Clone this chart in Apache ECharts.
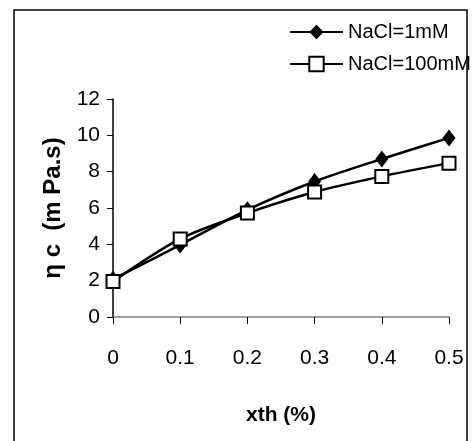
<!DOCTYPE html>
<html>
<head>
<meta charset="utf-8">
<script src="https://cdn.jsdelivr.net/npm/echarts@6/dist/echarts.min.js"></script>
<style>
html,body{margin:0;padding:0;background:#fff;}
#main{width:473px;height:441px;}
</style>
</head>
<body>
<div id="main"></div>
<script>
var xValues = [0, 0.1, 0.2, 0.3, 0.4, 0.5];
var nacl1 = [2.08, 3.97, 5.9, 7.46, 8.7, 9.86];
var nacl100 = [1.95, 4.3, 5.72, 6.88, 7.74, 8.47];
var seriesNames = ['NaCl=1mM', 'NaCl=100mM'];
var xTitle = 'xth (%)';
var yTitle = 'η c  (m Pa.s)';

var FONT = '"Liberation Sans", Arial, sans-serif';

function pairs(vals) {
  return xValues.map(function (x, i) { return [x, vals[i]]; });
}

var chart = echarts.init(document.getElementById('main'), null, {renderer: 'canvas'});
chart.setOption({
  animation: false,
  backgroundColor: '#fff',
  graphic: [{
    type: 'rect',
    shape: {x: 14, y: 10, width: 453, height: 440},
    style: {fill: 'none', stroke: '#000', lineWidth: 1.5},
    silent: true,
    z: 0
  }],
  legend: [{
    data: [seriesNames[0]],
    left: 284, top: 17,
    itemWidth: 53, itemHeight: 18,
    textStyle: {fontFamily: FONT, fontSize: 20, color: '#000'}
  }, {
    data: [seriesNames[1]],
    left: 284, top: 49,
    itemWidth: 53, itemHeight: 18,
    textStyle: {fontFamily: FONT, fontSize: 20, color: '#000'}
  }],
  grid: {left: 113, right: 24, top: 99, bottom: 124, containLabel: false},
  xAxis: {
    type: 'value', min: 0, max: 0.5, interval: 0.1,
    name: xTitle, nameLocation: 'middle', nameGap: 88,
    nameTextStyle: {fontFamily: FONT, fontSize: 21, fontWeight: 'bold', color: '#000'},
    axisLine: {show: true, onZero: false, lineStyle: {color: '#808080', width: 1.5}},
    axisTick: {show: true, inside: false, length: 7, lineStyle: {color: '#000', width: 1}},
    axisLabel: {fontFamily: FONT, fontSize: 21, color: '#000', margin: 31},
    splitLine: {show: false}
  },
  yAxis: {
    type: 'value', min: 0, max: 12, interval: 2,
    name: yTitle, nameLocation: 'middle', nameGap: 47, nameRotate: 90,
    nameTextStyle: {fontFamily: FONT, fontSize: 24, fontWeight: 'bold', color: '#000', padding: [0, 0, 0, 0]},
    axisLine: {show: true, lineStyle: {color: '#000', width: 1.5}},
    axisTick: {show: true, inside: false, length: 6, lineStyle: {color: '#000', width: 1}},
    axisLabel: {fontFamily: FONT, fontSize: 21, color: '#000', margin: 13},
    splitLine: {show: false}
  },
  series: [{
    name: seriesNames[0], type: 'line', data: pairs(nacl1),
    smooth: 0.3,
    symbol: 'diamond', symbolSize: [13, 17],
    lineStyle: {color: '#000', width: 2.5},
    itemStyle: {color: '#000', borderColor: '#000', borderWidth: 0},
    z: 2
  }, {
    name: seriesNames[1], type: 'line', data: pairs(nacl100),
    smooth: 0.3,
    symbol: 'rect', symbolSize: 13,
    lineStyle: {color: '#000', width: 2.5},
    itemStyle: {color: '#fff', borderColor: '#000', borderWidth: 2},
    z: 3
  }]
});
</script>
</body>
</html>
